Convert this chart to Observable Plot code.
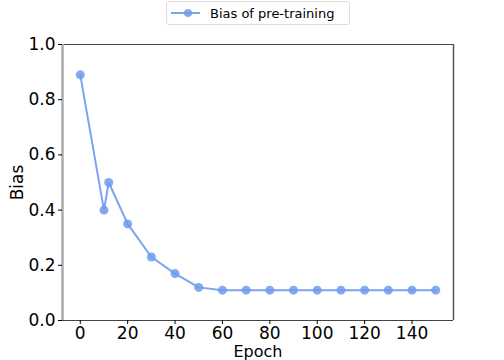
<!DOCTYPE html>
<html>
<head>
<meta charset="utf-8">
<script src="https://cdn.jsdelivr.net/npm/d3@7"></script>
<script src="https://cdn.jsdelivr.net/npm/@observablehq/plot@0.6"></script>
<style>
  html, body { margin: 0; padding: 0; background: #fff; }
  #wrap { position: relative; width: 504px; height: 360px; font-family: "DejaVu Sans", sans-serif; }
  #legend { position: absolute; left: 166px; top: 1px; width: 184px; height: 24px; border: 1px solid #ddd; border-radius: 3px; box-sizing: border-box; display: flex; align-items: center; font-size: 13px; color: #000; background: #fff; }
  #legend svg { margin-left: 4px; margin-right: 10px; }
  #chart { position: absolute; left: 0; top: 30px; }
</style>
</head>
<body>
<div id="wrap">
  <div id="legend"><svg width="29" height="10"><line x1="0" y1="5" x2="29" y2="5" stroke="#7BA4F0" stroke-width="2"/><circle cx="17" cy="5" r="4" fill="#6F9BEE" fill-opacity="0.85"/></svg><span>Bias of pre-training</span></div>
  <div id="chart"></div>
</div>
<script>
const epochs = [0, 10, 12, 20, 30, 40, 50, 60, 70, 80, 90, 100, 110, 120, 130, 140, 150];
const bias   = [0.89, 0.40, 0.50, 0.35, 0.23, 0.17, 0.12, 0.11, 0.11, 0.11, 0.11, 0.11, 0.11, 0.11, 0.11, 0.11, 0.11];
const xTicks = [0, 20, 40, 60, 80, 100, 120, 140];
const yTicks = [0.0, 0.2, 0.4, 0.6, 0.8, 1.0];
const seriesName = "Bias of pre-training";

const data = epochs.map((e, i) => ({epoch: e, bias: bias[i]}));
const lineColor = "#7BA4F0";
const dotColor = "#6F9BEE";

const chart = Plot.plot({
  width: 504,
  height: 330,
  marginLeft: 62,
  marginRight: 51,
  marginTop: 14,
  marginBottom: 40,
  style: { fontFamily: "DejaVu Sans, sans-serif", fontSize: "17px", color: "#000", background: "#fff" },
  x: { domain: [-7.5, 157.5], ticks: xTicks, tickFormat: d3.format("d") },
  y: { domain: [0, 1], ticks: yTicks, tickFormat: d3.format(".1f") },
  marks: [
    Plot.line(data, {x: "epoch", y: "bias", stroke: lineColor, strokeWidth: 2}),
    Plot.dot(data, {x: "epoch", y: "bias", r: 4.5, fill: dotColor, fillOpacity: 0.85}),
    Plot.ruleY([1], {stroke: "#444", strokeWidth: 1}),
    Plot.ruleY([0], {stroke: "#444", strokeWidth: 1}),
    Plot.ruleX([157.5], {stroke: "#555", strokeWidth: 1.5}),
    Plot.ruleX([-7.5], {stroke: "#aaa", strokeWidth: 2.5}),
    Plot.axisX({ticks: xTicks, tickFormat: d3.format("d"), tickSize: 4, tickPadding: 2, fontSize: 17, label: null}),
    Plot.axisX({ticks: [], label: "Epoch", labelAnchor: "center", labelArrow: "none", labelOffset: 36, fontSize: 16}),
    Plot.axisY({ticks: yTicks, tickFormat: d3.format(".1f"), tickSize: 4, tickPadding: 3, label: "Bias", labelAnchor: "center", labelArrow: "none", labelOffset: 52, fontSize: 17})
  ]
});
document.getElementById("chart").appendChild(chart);
</script>
</body>
</html>
